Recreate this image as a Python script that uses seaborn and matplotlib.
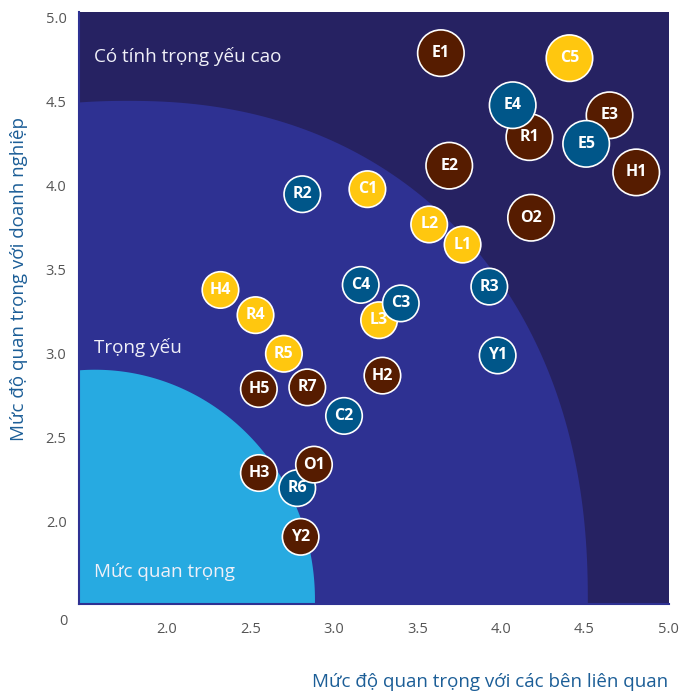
import numpy as np
import pandas as pd
import matplotlib
matplotlib.use("Agg")
import matplotlib.pyplot as plt
import seaborn as sns

# --- data ---
labels = ["E1", "C5", "E3", "R1", "E4", "E5", "H1", "E2", "O2",
          "C1", "R2", "L2", "L1", "C4", "L3", "C3", "R3", "H4", "R4",
          "R5", "Y1", "H2", "H5", "R7", "C2", "H3", "R6", "O1", "Y2"]
stakeholder = [3.64, 4.41, 4.65, 4.17, 4.07, 4.51, 4.81, 3.69, 4.18,
               3.20, 2.81, 3.57, 3.77, 3.16, 3.27, 3.40, 3.93, 2.32, 2.53,
               2.70, 3.98, 3.29, 2.55, 2.84, 3.06, 2.55, 2.78, 2.88, 2.80]
business = [4.79, 4.76, 4.42, 4.29, 4.48, 4.25, 4.08, 4.12, 3.81,
            3.98, 3.95, 3.77, 3.65, 3.41, 3.20, 3.30, 3.40, 3.38, 3.23,
            3.00, 2.99, 2.87, 2.79, 2.80, 2.63, 2.29, 2.20, 2.34, 1.91]
group = ["nau", "vang", "nau", "nau", "xanh", "xanh", "nau", "nau", "nau",
         "vang", "xanh", "vang", "vang", "xanh", "vang", "xanh", "xanh", "vang", "vang",
         "vang", "xanh", "nau", "nau", "nau", "xanh", "nau", "xanh", "nau", "nau"]
zone = ["cao"] * 9 + ["khac"] * 20

x_ticks = [2.0, 2.5, 3.0, 3.5, 4.0, 4.5, 5.0]
y_ticks = [2.0, 2.5, 3.0, 3.5, 4.0, 4.5, 5.0]

df = pd.DataFrame({"ma": labels, "x": stakeholder, "y": business,
                   "nhom": group, "vung": zone})

navy = "#262262"
mid_blue = "#2e3192"
light_blue = "#27aae1"
palette = {"nau": "#561c00", "vang": "#ffc70f", "xanh": "#005689"}
label_blue = "#1c5e97"

sns.set_theme(style="white")
plt.rcParams["font.family"] = ["Open Sans", "DejaVu Sans"]

fig = plt.figure(figsize=(6.8, 6.93), dpi=100)
ax = fig.add_axes([0.1162, 0.1284, 0.8676, 0.8543])
ax.set_facecolor(navy)


def superellipse(cx, cy, rx, ry, n):
    t = np.linspace(0, 2 * np.pi, 400)
    c, s = np.cos(t), np.sin(t)
    xs = cx + rx * np.sign(c) * np.abs(c) ** (2 / n)
    ys = cy + ry * np.sign(s) * np.abs(s) ** (2 / n)
    return xs, ys


# background zones
xs, ys = superellipse(1.766, 1.536, 2.754, 2.97, 2.2)
ax.fill(xs, ys, color=mid_blue, lw=0, zorder=0)
xs, ys = superellipse(1.569, 1.536, 1.317, 1.369, 2.0)
ax.fill(xs, ys, color=light_blue, lw=0, zorder=0.5)

sns.scatterplot(data=df, x="x", y="y", hue="nhom", palette=palette,
                size="vung", sizes={"cao": 1120, "khac": 690},
                edgecolor="white", linewidth=1.2, alpha=1,
                legend=False, ax=ax, zorder=3)

for _, r in df.iterrows():
    ax.text(r["x"], r["y"], r["ma"], ha="center", va="center",
            color="white", fontsize=11.5, fontweight="bold", zorder=4)

# zone names
zone_kw = dict(color="#f0f0f8", fontsize=13.6, ha="left", va="center", zorder=2)
ax.text(1.563, 4.77, "Có tính trọng yếu cao", **zone_kw)
ax.text(1.563, 3.04, "Trọng yếu", **zone_kw)
ax.text(1.563, 1.70, "Mức quan trọng", **zone_kw)

ax.set_xlim(1.473, 5.006)
ax.set_ylim(1.51, 5.035)
ax.set_xticks(x_ticks)
ax.set_yticks(y_ticks)
ax.set_xticklabels([f"{v:.1f}" for v in x_ticks])
ax.set_yticklabels([f"{v:.1f}" for v in y_ticks])
ax.tick_params(length=0, labelsize=10.5, labelcolor="#555555")
ax.tick_params(axis="x", pad=13)
ax.tick_params(axis="y", pad=9)
ax.set_xlabel("")
ax.set_ylabel("")
ax.text(-0.027, -0.03, "0", transform=ax.transAxes, ha="center", va="center",
        fontsize=10.5, color="#555555")

for side in ["top", "right"]:
    ax.spines[side].set_visible(False)
for side in ["left", "bottom"]:
    ax.spines[side].set_color(mid_blue)
    ax.spines[side].set_linewidth(1.5)

fig.text(0.982, 0.016, "Mức độ quan trọng với các bên liên quan",
         ha="right", va="center", color=label_blue, fontsize=13.5)
fig.text(0.028, 0.597, "Mức độ quan trọng với doanh nghiệp", rotation=90,
         ha="center", va="center", color=label_blue, fontsize=13.5)

fig.savefig("out.png", dpi=100)
